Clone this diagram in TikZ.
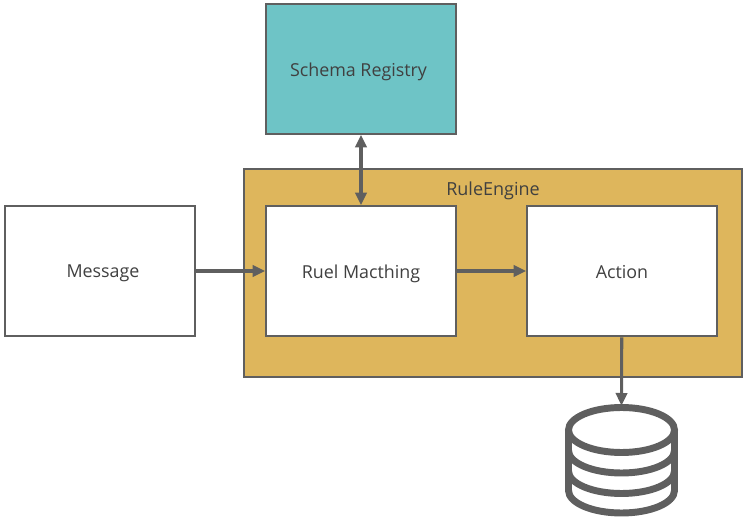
\documentclass[tikz,border=0pt]{standalone}
\usepackage{fontspec}
\setmainfont{Open Sans}
\usetikzlibrary{arrows.meta}
\definecolor{ln}{HTML}{5F5F5F}
\definecolor{tx}{HTML}{404040}
\definecolor{teal}{HTML}{6EC4C6}
\definecolor{gold}{HTML}{DEB65C}
\newcommand{\lowered}[1]{\raisebox{-1.9pt}[\height][\depth]{#1}}
\tikzset{
  x=0.75pt,y=-0.75pt,
  box/.style={draw=ln,line width=2.2pt,fill=white,minimum width=142.5pt,minimum height=97.5pt,inner sep=0pt,text=tx,font=\fontsize{13.4}{16}\selectfont},
  conn/.style={draw=ln,line width=2.3pt,-{Triangle[length=9.5pt,width=8.5pt]},shorten >=-0.5pt},
  dbline/.style={draw=ln,line width=5.2pt}
}
\begin{document}
\begin{tikzpicture}
\useasboundingbox (0,0) rectangle (750,520);
\node[box,fill=gold,minimum width=373.5pt,minimum height=156pt] (engine) at (493,273) {};
\node[text=tx,font=\fontsize{13.5}{16}\selectfont] (enginelabel) at (493,190.5) {RuleEngine};
\node[box,fill=teal] (schema) at (361,69) {\lowered{Schema Registry\hspace*{3.75pt}}};
\node[box] (message) at (100,271) {\lowered{\hspace*{4.5pt}Message}};
\node[box] (match) at (361,271) {\lowered{Ruel Macthing}};
\node[box] (action) at (622,271) {\raisebox{-0.8pt}[\height][\depth]{Action}};
\coordinate (dbtop) at (621.5,405);
\draw[dbline] (621.5,430) ellipse [x radius=53,y radius=22.5];
\draw[dbline] (568.5,430) -- (568.5,490.5) arc[start angle=180,end angle=360,x radius=53,y radius=-22.5] -- (674.5,430);
\draw[dbline] (568.5,450.5) arc[start angle=180,end angle=360,x radius=53,y radius=-22.5];
\draw[dbline] (568.5,471) arc[start angle=180,end angle=360,x radius=53,y radius=-22.5];
\draw[conn] (message) -- (match);
\draw[conn] (match) -- (action);
\draw[conn,{Triangle[length=9.5pt,width=8.5pt]}-{Triangle[length=9.5pt,width=8.5pt]},shorten <=-0.5pt] (schema) -- (match);
\draw[conn] (action) -- (dbtop);
\end{tikzpicture}
\end{document}
